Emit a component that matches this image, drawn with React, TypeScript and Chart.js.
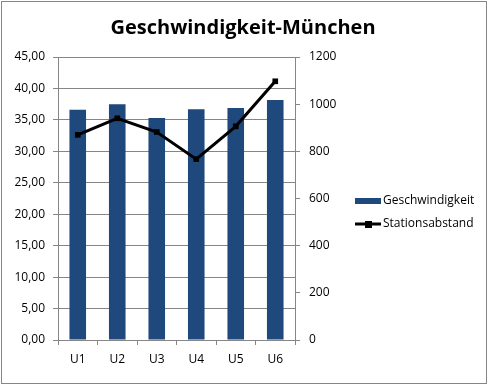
import React, { useEffect, useRef } from "react";
import { Chart, registerables } from "chart.js";

Chart.register(...registerables);

const categories = ["U1", "U2", "U3", "U4", "U5", "U6"];
const speedValues = [36.6, 37.5, 35.3, 36.7, 36.9, 38.15];
const distanceValues = [870, 940, 882, 767, 906, 1097];
const leftTicks = [0, 5, 10, 15, 20, 25, 30, 35, 40, 45];
const rightTicks = [0, 200, 400, 600, 800, 1000, 1200];
const title = "Geschwindigkeit-München";
const speedLabel = "Geschwindigkeit";
const distanceLabel = "Stationsabstand";

const BAR_COLOR = "#1F497D";
const GRID = "#868686";
const FONT = "'Open Sans', 'Noto Sans', sans-serif";

const decorPlugin = {
  id: "decor",
  afterDraw(chart: any) {
    const ctx = chart.ctx;
    ctx.save();
    // outer frame
    ctx.strokeStyle = GRID;
    ctx.lineWidth = 1;
    ctx.strokeRect(1.5, 1.5, 485, 382);
    // title
    ctx.fillStyle = "#000";
    ctx.font = `bold 20px ${FONT}`;
    ctx.textAlign = "center";
    ctx.textBaseline = "alphabetic";
    ctx.fillText(title, 243, 34);
    // legend
    ctx.font = `12px ${FONT}`;
    ctx.textAlign = "left";
    ctx.textBaseline = "middle";
    ctx.fillStyle = BAR_COLOR;
    ctx.fillRect(355, 198, 26, 6);
    ctx.fillStyle = "#000";
    ctx.fillText(speedLabel, 383, 201);
    ctx.strokeStyle = "#000";
    ctx.lineWidth = 3;
    ctx.beginPath();
    ctx.moveTo(355, 224);
    ctx.lineTo(381, 224);
    ctx.stroke();
    ctx.fillRect(365, 221, 7, 7);
    ctx.fillText(distanceLabel, 383, 224);
    ctx.restore();
  },
};

export default function App() {
  const ref = useRef<HTMLCanvasElement | null>(null);
  useEffect(() => {
    document.body.style.margin = "0";
    const chart = new Chart(ref.current as HTMLCanvasElement, {
      type: "bar",
      data: {
        labels: categories,
        datasets: [
          {
            type: "line",
            label: distanceLabel,
            data: distanceValues,
            yAxisID: "y1",
            borderColor: "#000",
            backgroundColor: "#000",
            borderWidth: 3,
            pointStyle: "rect",
            pointRadius: 4,
            pointBackgroundColor: "#000",
            pointBorderWidth: 0,
            tension: 0,
            order: 0,
          } as any,
          {
            type: "bar",
            label: speedLabel,
            data: speedValues,
            yAxisID: "y",
            backgroundColor: BAR_COLOR,
            barPercentage: 0.42,
            categoryPercentage: 1,
            order: 1,
          },
        ],
      },
      options: {
        responsive: false,
        animation: false,
        layout: { padding: { left: 0, right: 143, top: 57, bottom: 0 } },
        plugins: {
          legend: { display: false },
          title: { display: false },
          tooltip: { enabled: false },
        },
        scales: {
          x: {
            offset: true,
            grid: { offset: true, drawOnChartArea: false, color: GRID, tickLength: 5 },
            border: { color: GRID },
            ticks: { color: "#000", font: { family: FONT, size: 12 }, padding: 7 },
            afterFit(scale: any) {
              scale.height = 45;
            },
          },
          y: {
            position: "left",
            min: 0,
            max: 45,
            afterBuildTicks(scale: any) {
              scale.ticks = leftTicks.map((v) => ({ value: v }));
            },
            grid: { color: GRID, tickLength: 5 },
            border: { color: GRID },
            ticks: {
              color: "#000",
              font: { family: FONT, size: 12 },
              padding: 8,
              callback: (v: any) => Number(v).toFixed(2).replace(".", ","),
            },
            afterFit(scale: any) {
              scale.width = 58;
            },
          },
          y1: {
            position: "right",
            min: 0,
            max: 1200,
            afterBuildTicks(scale: any) {
              scale.ticks = rightTicks.map((v) => ({ value: v }));
            },
            grid: { drawOnChartArea: false, color: GRID, tickLength: 5 },
            border: { color: GRID },
            ticks: {
              color: "#000",
              font: { family: FONT, size: 12 },
              padding: 9,
              callback: (v: any) => String(v),
            },
            afterFit(scale: any) {
              scale.width = 50;
            },
          },
        },
      },
      plugins: [decorPlugin],
    });
    return () => chart.destroy();
  }, []);
  return (
    <div style={{ width: 488, height: 385 }}>
      <canvas ref={ref} width={488} height={385} style={{ display: "block" }} />
    </div>
  );
}
